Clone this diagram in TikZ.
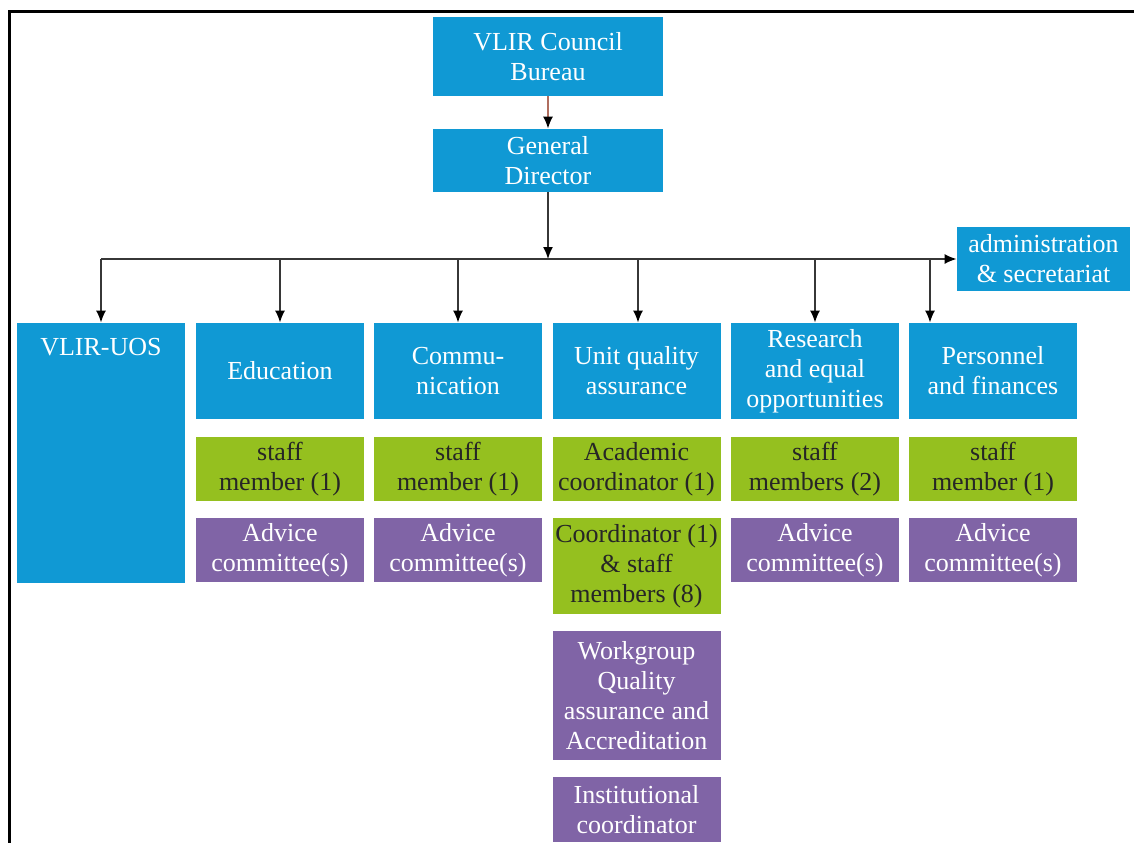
\documentclass[tikz,border=0pt]{standalone}
\usepackage{fontspec}
\setmainfont{Liberation Serif}
\usetikzlibrary{arrows.meta}

\definecolor{vlirblue}{RGB}{16,153,212}
\definecolor{vlirgreen}{RGB}{149,192,31}
\definecolor{vlirpurple}{RGB}{128,100,166}
\definecolor{linkgray}{RGB}{55,55,55}
\definecolor{linkred}{RGB}{176,110,95}

\begin{document}
\begin{tikzpicture}[x=0.5pt, y=-0.5pt,
    every node/.style={inner sep=0pt, align=center, font=\fontsize{13}{15}\selectfont},
    unit/.style={fill=vlirblue, text=white, minimum width=84pt, minimum height=48pt},
    staff/.style={fill=vlirgreen, text=black!85, minimum width=84pt, minimum height=32pt},
    advice/.style={fill=vlirpurple, text=white, minimum width=84pt, minimum height=32pt},
    link/.style={draw=linkgray, line width=0.8pt, -{Latex[length=6pt,width=5pt,color=black]}}]

\useasboundingbox (0,0) rectangle (1134,843);
\draw[line width=1.5pt] (1134,11) -- (9,11) -- (9,843);

% top of the chart
\node[unit, minimum width=115pt, minimum height=39.5pt] (council) at (548,56.5) {VLIR Council\\Bureau};
\node[unit, minimum width=115pt, minimum height=31.5pt] (director) at (548,160.5) {General\\Director};
\node[unit, minimum width=86.5pt, minimum height=32pt] (admin) at (1043.5,259) {administration\\\& secretariat};
\coordinate (bus) at (548,259);

% departments
\node[unit, minimum height=130pt, label={[text=white, anchor=north, yshift=-7.5pt]north:VLIR-UOS}] (uos) at (101,453) {};
\node[unit] (edu) at (280,371) {Education};
\node[unit] (comm) at (458,371) {Commu-\\nication};
\node[unit] (uqa) at (636.5,371) {Unit quality\\assurance};
\node[unit] (research) at (815,371) {Research\\and equal\\opportunities};
\node[unit] (persfin) at (993,371) {Personnel\\and finances};

% staff
\node[staff] (edustaff) at (280,469) {staff\\member (1)};
\node[staff] (commstaff) at (458,469) {staff\\member (1)};
\node[staff] (uqaacad) at (636.5,469) {Academic\\coordinator (1)};
\node[staff] (researchstaff) at (815,469) {staff\\members (2)};
\node[staff] (persfinstaff) at (993,469) {staff\\member (1)};
\node[staff, minimum height=48pt] (uqacoord) at (636.5,566) {Coordinator (1)\\\& staff\\members (8)};

% committees
\node[advice] (eduadv) at (280,550) {Advice\\committee(s)};
\node[advice] (commadv) at (458,550) {Advice\\committee(s)};
\node[advice] (researchadv) at (815,550) {Advice\\committee(s)};
\node[advice] (persfinadv) at (993,550) {Advice\\committee(s)};
\node[advice, minimum height=64.5pt] (workgroup) at (636.5,695.5) {Workgroup\\Quality\\assurance and\\Accreditation};
\node[advice, minimum height=32.5pt] (instcoord) at (636.5,809.5) {Institutional\\coordinator};

% connectors
\draw[link, draw=linkred] (council) -- (director);
\draw[link] (director) -- (bus);
\draw[link] (uos.north |- bus) -- (admin.west);
\foreach \dept/\shift in {uos/0pt, edu/0pt, comm/0pt, uqa/0.75pt, research/0pt, persfin/-31.5pt}
  \draw[link] ([xshift=\shift]\dept.north |- bus) -- ([xshift=\shift]\dept.north);

\end{tikzpicture}
\end{document}
